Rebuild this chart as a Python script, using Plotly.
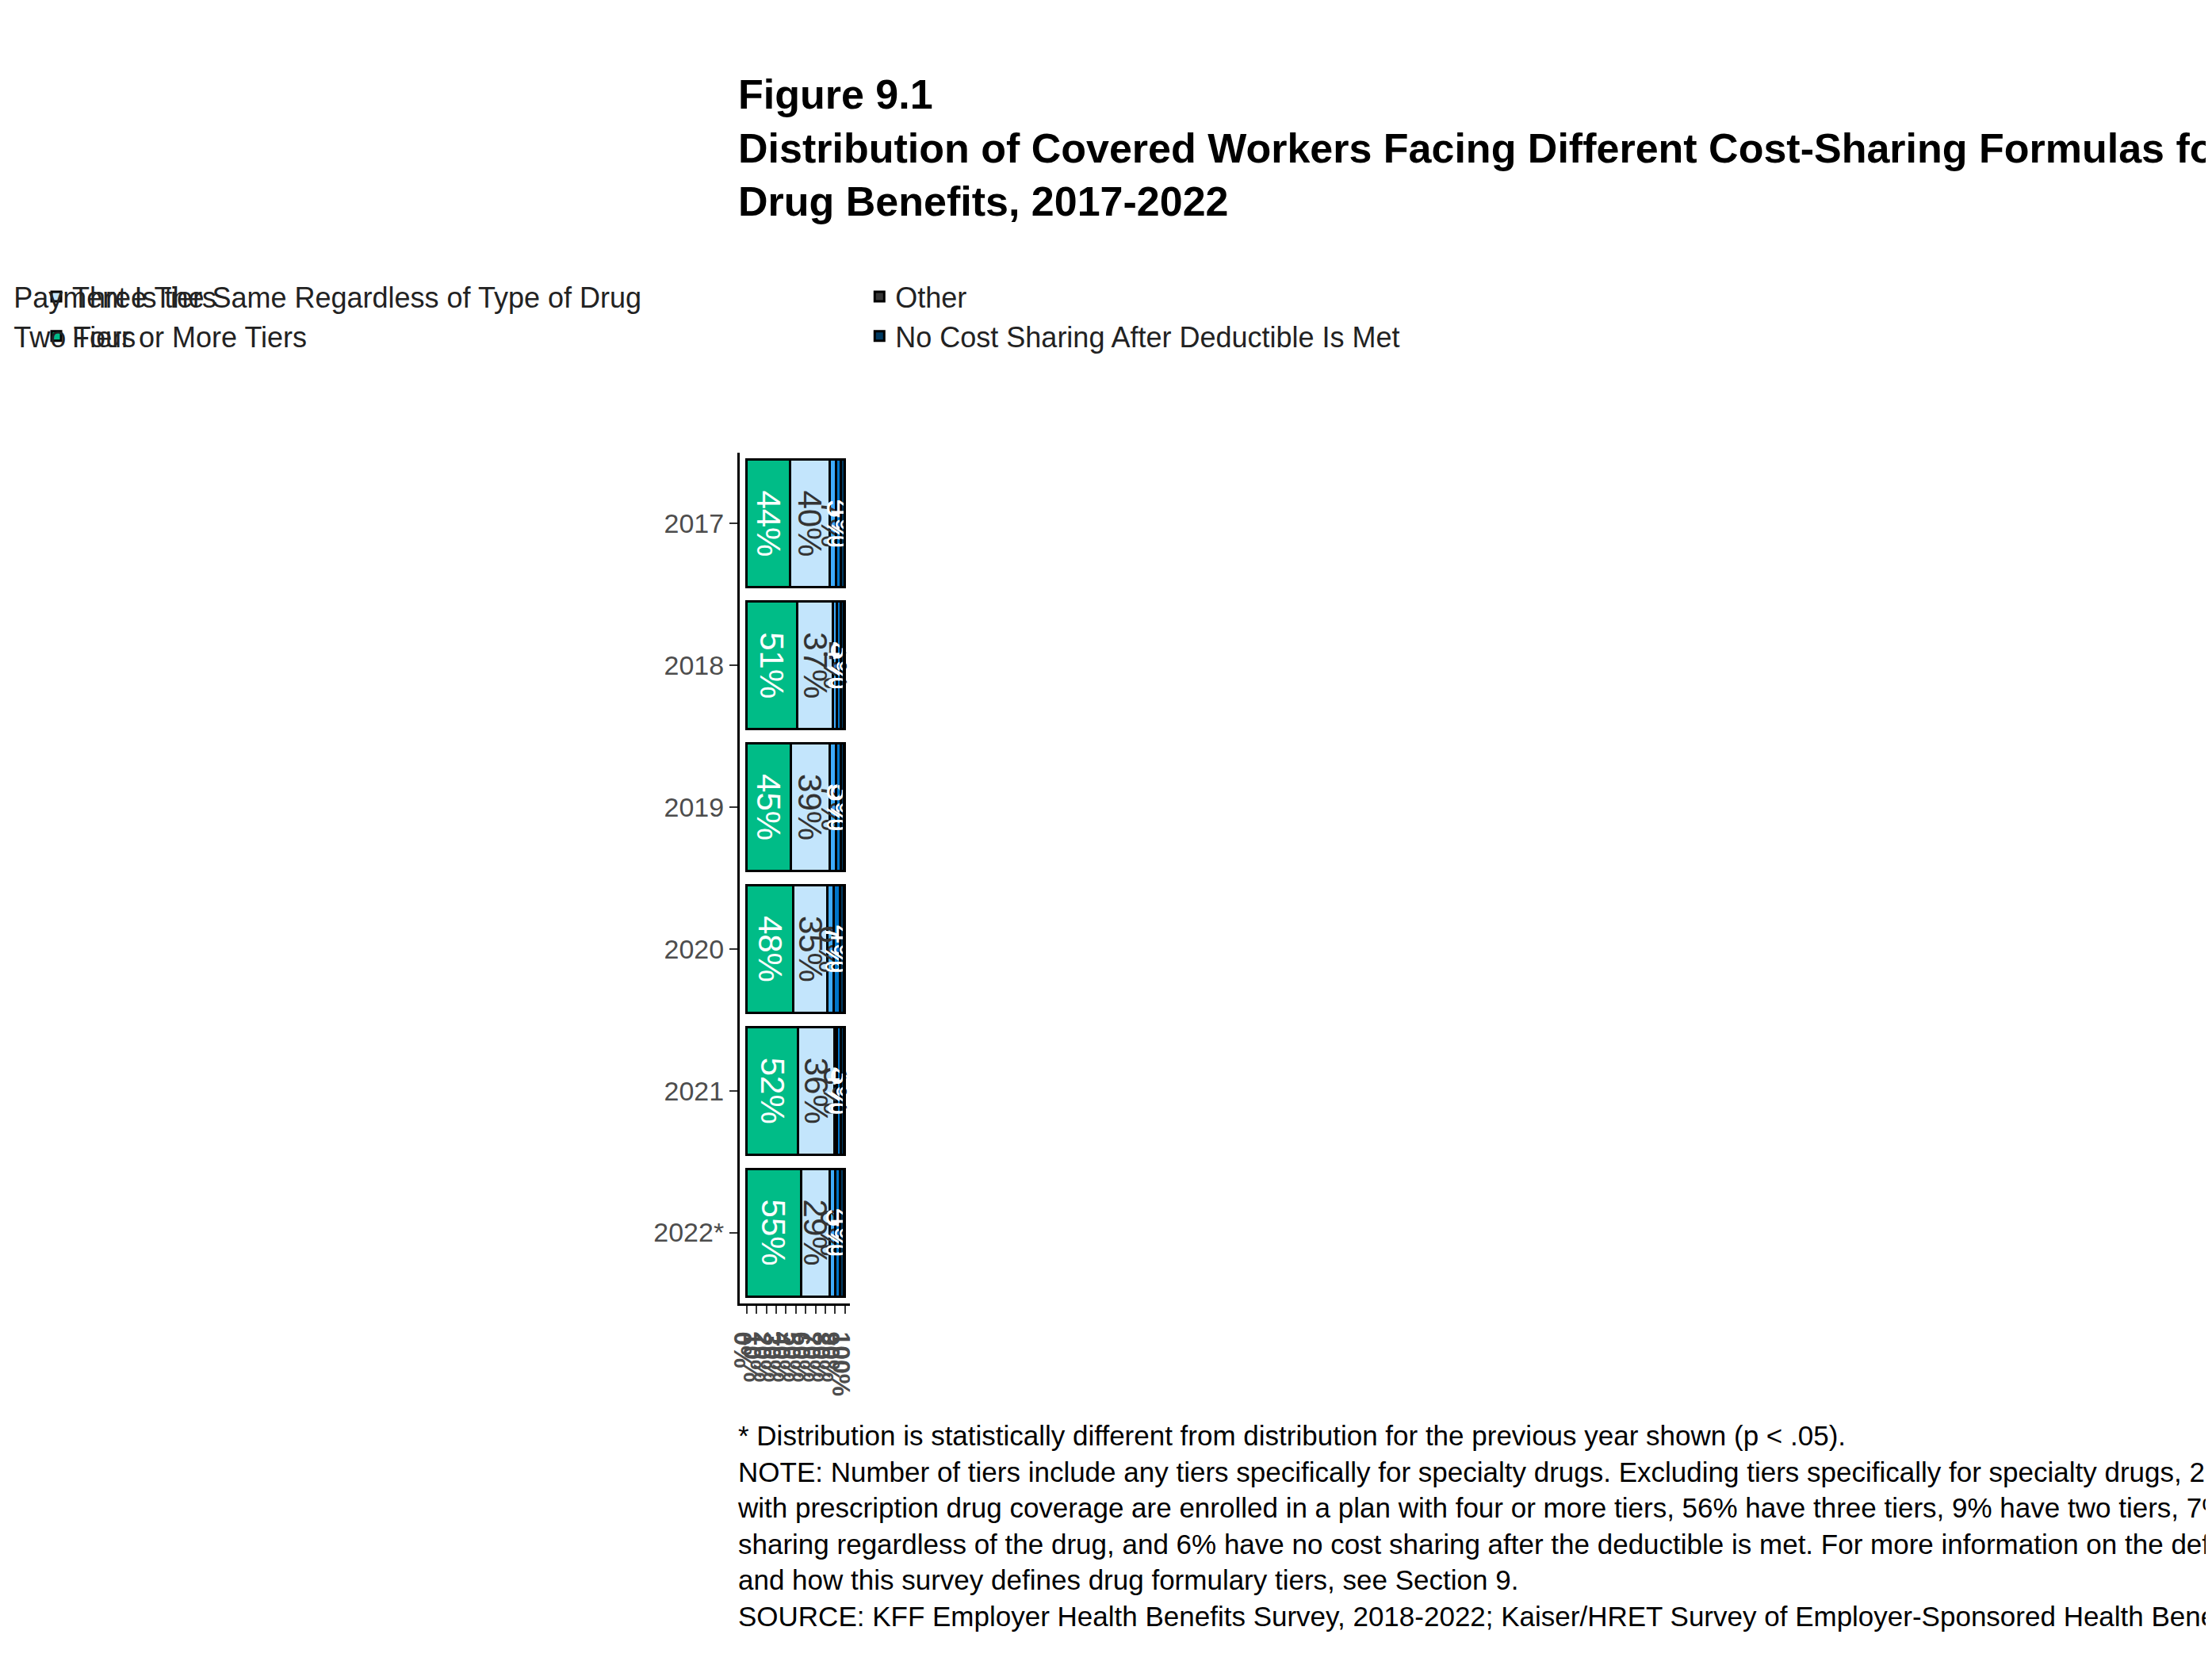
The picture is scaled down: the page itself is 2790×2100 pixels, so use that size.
import plotly.graph_objects as go

years = ["2017", "2018", "2019", "2020", "2021", "2022*"]
series_names = ["Four or More Tiers", "Three Tiers", "Two Tiers",
                "Payment Is the Same Regardless of Type of Drug",
                "No Cost Sharing After Deductible Is Met", "Other"]
four = [44.0, 51.0, 45.0, 47.5, 52.5, 55.1]
three = [40.0, 37.0, 39.0, 34.7, 36.4, 28.9]
two = [7.0, 4.0, 7.0, 5.9, 3.0, 6.0]
same = [5.0, 4.0, 5.0, 7.0, 4.1, 5.0]
nocost = [4.0, 3.0, 3.0, 3.9, 3.0, 4.0]
other = [0.0, 1.0, 1.0, 1.0, 1.0, 1.0]
labels_four = ["44%", "51%", "45%", "48%", "52%", "55%"]
labels_three = ["40%", "37%", "39%", "35%", "36%", "29%"]
labels_two = ["7%", "4%", "7%", "6%", "3%", "6%"]
labels_same = ["5%", "4%", "5%", "7%", "4%", "5%"]
labels_nocost = ["4%", "3%", "3%", "4%", "3%", "4%"]
labels_other = ["", "", "", "", "", ""]

values = [four, three, two, same, nocost, other]
labels = [labels_four, labels_three, labels_two, labels_same, labels_nocost, labels_other]
colors = ["#00BC87", "#C3E5FC", "#3EABFB", "#0074C8", "#003A62", "#363636"]
textcolors = ["white", "#333333", "#333333", "white", "white", "white"]
legends = ["legend", "legend", "legend2", "legend2", "legend3", "legend3"]

fig = go.Figure()
for name, v, t, c, tc, lg in zip(series_names, values, labels, colors, textcolors, legends):
    fig.add_trace(go.Bar(
        y=years, x=v, name=name, orientation="h", text=t,
        textposition="inside", insidetextanchor="middle",
        textfont=dict(size=42, color=tc, family="Liberation Sans"),
        marker=dict(color=c, line=dict(color="black", width=3)),
        legend=lg, constraintext="none", cliponaxis=False,
    ))

leg_common = dict(xref="container", yref="container", yanchor="top",
                  font=dict(size=36, color="#222222", family="Liberation Sans"),
                  bgcolor="rgba(0,0,0,0)", tracegroupgap=10)
fig.update_layout(
    barmode="stack", bargap=0.1, width=2790, height=2100,
    paper_bgcolor="white", plot_bgcolor="white",
    font=dict(family="Liberation Sans"),
    margin=dict(l=141, r=10, t=563, b=464),
    legend=dict(x=0.138, y=0.84, **leg_common),
    legend2=dict(x=0.289, y=0.84, **leg_common),
    legend3=dict(x=0.632, y=0.84, **leg_common),
    xaxis=dict(range=[-7.07, 105.17], tickvals=list(range(0, 101, 10)),
               ticktext=[f"{i}%" for i in range(0, 101, 10)],
               showgrid=False, zeroline=False, showline=True, linecolor="black",
               linewidth=3, ticks="outside", ticklen=10, tickcolor="#333333", tickwidth=2,
               tickfont=dict(size=32, color="#4d4d4d", family="Liberation Sans", weight="bold")),
    yaxis=dict(autorange="reversed", showgrid=False, showline=True, linecolor="black",
               linewidth=3, ticks="outside", ticklen=10, tickcolor="#333333", tickwidth=2,
               tickfont=dict(size=34, color="#4d4d4d", family="Liberation Sans")),
)

fig.add_annotation(xref="paper", yref="paper", x=-0.0263, y=1.45,
    xanchor="left", yanchor="top", showarrow=False, align="left",
    text="<b>Figure 9.1</b><br><b>Distribution of Covered Workers Facing Different Cost-Sharing Formulas for Prescription</b><br><b>Drug Benefits, 2017-2022</b>",
    font=dict(size=52, color="black", family="Liberation Sans"))
fig.add_annotation(xref="paper", yref="paper", x=-0.0365, y=-0.135,
    xanchor="left", yanchor="top", showarrow=False, align="left",
    text=("* Distribution is statistically different from distribution for the previous year shown (p < .05).<br>"
          "NOTE: Number of tiers include any tiers specifically for specialty drugs. Excluding tiers specifically for specialty drugs, 23% of covered workers<br>"
          "with prescription drug coverage are enrolled in a plan with four or more tiers, 56% have three tiers, 9% have two tiers, 7% have the same cost<br>"
          "sharing regardless of the drug, and 6% have no cost sharing after the deductible is met. For more information on the definition of specialty drugs<br>"
          "and how this survey defines drug formulary tiers, see Section 9.<br>"
          "SOURCE: KFF Employer Health Benefits Survey, 2018-2022; Kaiser/HRET Survey of Employer-Sponsored Health Benefits, 2017"),
    font=dict(size=35, color="black", family="Liberation Sans"))

fig.write_html("out.html")
